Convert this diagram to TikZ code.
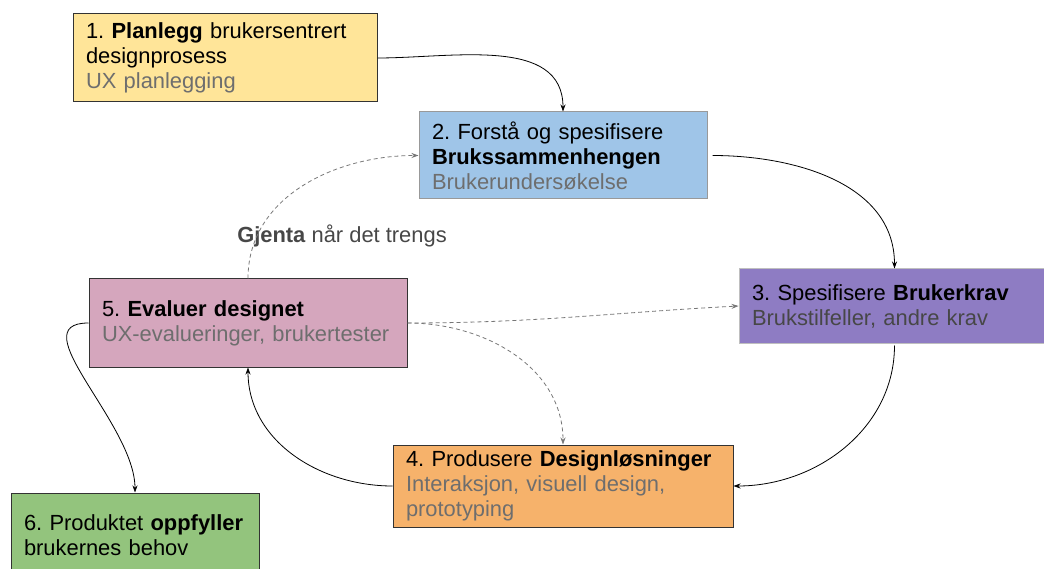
\documentclass[tikz,border=0pt]{standalone}
\usepackage{fontspec}
\setmainfont{Liberation Sans}
\usetikzlibrary{arrows.meta}
\frenchspacing

\definecolor{planyellow}{HTML}{FFE599}
\definecolor{contextblue}{HTML}{9FC5E8}
\definecolor{reqpurple}{HTML}{8E7CC3}
\definecolor{designorange}{HTML}{F6B26B}
\definecolor{evalpink}{HTML}{D5A6BD}
\definecolor{donegreen}{HTML}{93C47D}
\definecolor{subgray}{HTML}{6E6E6E}
\definecolor{dashgray}{HTML}{777777}

\begin{document}
\begin{tikzpicture}[x=1pt,y=-1pt]
          \tikzset{StepBox/.style = {draw=black!80, line width=1pt, rectangle, align=left,
                   inner xsep=13pt, inner ysep=0pt, font=\fontsize{21.9}{25}\selectfont}}
          \tikzset{FlowEdge/.style = {-{Stealth[length=7pt,width=5pt]}, line width=0.8pt}}
          \tikzset{RepeatEdge/.style = {FlowEdge, dashgray, dash pattern=on 4pt off 3pt}}

          \useasboundingbox (0,0) rectangle (1044,569);

          \node[StepBox, fill=planyellow, text width=278pt, minimum height=88pt] (plan) at (225,58)
               {1. \textbf{Planlegg} brukersentrert\\designprosess\\\textcolor{subgray}{UX planlegging}};
          \node[StepBox, fill=contextblue, draw=black!40, text width=262pt, minimum height=87pt] (context) at (563,155.5)
               {2. Forstå og spesifisere\\\textbf{Brukssammenhengen}\\\textcolor{subgray}{Brukerundersøkelse}};
          \node[StepBox, fill=reqpurple, draw=black!25, text width=285pt, minimum height=74pt] (req) at (894.5,306)
               {3. Spesifisere \textbf{Brukerkrav}\\\textcolor{black!72}{Brukstilfeller, andre krav}};
          \node[StepBox, fill=designorange, text width=314pt, minimum height=82pt] (design) at (563,486)
               {4. Produsere \textbf{Designløsninger}\\\textcolor{subgray}{Interaksjon, visuell design,}\\\textcolor{subgray}{prototyping}};
          \node[StepBox, fill=evalpink, text width=292pt, minimum height=88pt] (eval) at (248,323)
               {5. \textbf{Evaluer designet}\\\textcolor{subgray}{UX-evalueringer, brukertester}};
          \node[StepBox, fill=donegreen, text width=222pt, minimum height=84pt] (done) at (135,535)
               {6. Produktet \textbf{oppfyller}\\brukernes behov};

          \node[font=\fontsize{21.9}{25}\selectfont, text=black!72] (repeat) at (342,236)
               {\textbf{Gjenta} når det trengs};

          % main cycle
          \draw[FlowEdge] (plan.east) to[out=0,in=90] (context.north);
          \draw[FlowEdge, shorten <=5pt] (context.east) to[out=0,in=90] (req.north);
          \draw[FlowEdge, shorten <=2pt] (req.south) to[out=-90,in=0] (design.east);
          \draw[FlowEdge] (design.west) to[out=180,in=-90] (eval.south);
          \draw[FlowEdge] (eval.west) to[out=180,in=90] (done.north);

          % iterations
          \draw[RepeatEdge] (eval.north) to[out=90,in=180] (context.west);
          \draw[RepeatEdge] (eval.east) to[out=0,in=183] (req.west);
          \draw[RepeatEdge] (eval.east) to[out=0,in=90] (design.north);
        \end{tikzpicture}
\end{document}
